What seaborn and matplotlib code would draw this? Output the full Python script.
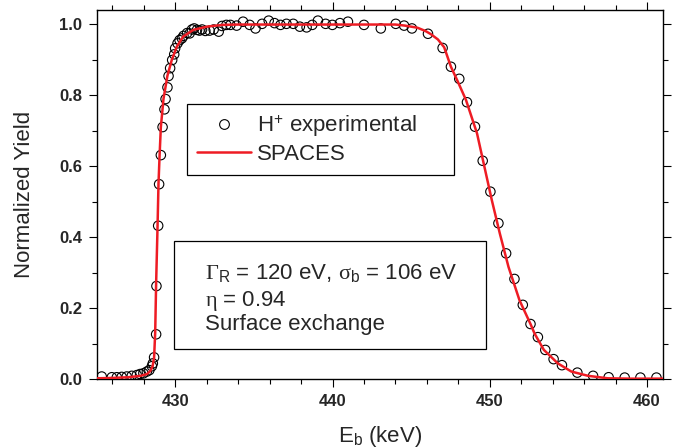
import matplotlib
matplotlib.use("Agg")
import matplotlib.pyplot as plt
from matplotlib.ticker import MultipleLocator, FormatStrFormatter
from matplotlib.lines import Line2D
from matplotlib.patches import Rectangle
import seaborn as sns
import pandas as pd

# Measured H+ yield (beam energy in keV, normalized yield)
exp_energy = [
    425.32, 425.96, 426.28, 426.59, 426.91, 427.23, 427.55, 427.76, 427.97, 428.19,
    428.35, 428.51, 428.57, 428.65, 428.78, 428.80, 428.91, 428.97, 429.08, 429.19,
    429.31, 429.38, 429.50, 429.57, 429.67, 429.80, 429.93, 429.99, 430.14, 430.27,
    430.42, 430.52, 430.75, 430.91, 431.06, 431.20, 431.38, 431.54, 431.70, 431.91,
    432.18, 432.44, 432.76, 432.97, 433.25, 433.50, 433.90, 434.31, 434.73, 435.10,
    435.52, 435.94, 436.31, 436.69, 437.07, 437.50, 437.92, 438.35, 438.71, 439.07,
    439.56, 439.99, 440.47, 440.98, 442.00, 443.07, 444.02, 444.55, 445.05, 446.07,
    447.00, 447.53, 448.06, 448.55, 449.06, 449.55, 450.04, 450.55, 451.04, 451.57,
    452.10, 452.59, 453.06, 453.53, 454.06, 454.59, 455.57, 456.57, 457.56, 458.58,
    459.58, 460.60,
]
exp_yield = [
    0.007, 0.005, 0.005, 0.006, 0.007, 0.009, 0.011, 0.014, 0.016, 0.021,
    0.025, 0.036, 0.044, 0.061, 0.126, 0.262, 0.432, 0.549, 0.631, 0.710,
    0.760, 0.789, 0.822, 0.854, 0.876, 0.899, 0.915, 0.932, 0.946, 0.955,
    0.960, 0.967, 0.975, 0.974, 0.985, 0.988, 0.984, 0.982, 0.985, 0.981,
    0.982, 0.985, 0.979, 0.995, 0.998, 0.998, 0.996, 1.007, 0.998, 0.988,
    1.001, 1.010, 1.003, 0.998, 1.001, 1.001, 0.993, 0.991, 0.998, 1.010,
    1.001, 0.998, 1.003, 1.007, 0.998, 0.988, 1.001, 0.996, 0.988, 0.973,
    0.933, 0.880, 0.846, 0.780, 0.711, 0.615, 0.528, 0.439, 0.354, 0.282,
    0.209, 0.155, 0.118, 0.082, 0.056, 0.039, 0.018, 0.009, 0.005, 0.004,
    0.004, 0.004,
]

# SPACES simulated yield curve
sim_energy = [
    425.0, 426.0, 427.0, 427.8, 428.2, 428.4, 428.55, 428.65, 428.72, 428.78,
    428.87, 428.93, 429.0, 429.08, 429.25, 429.5, 429.78, 430.1, 430.5, 431.15,
    432.0, 433.0, 434.0, 444.0, 444.6, 445.4, 445.9, 446.25, 446.7, 447.1,
    447.53, 448.0, 448.49, 449.19, 449.66, 450.13, 450.64, 451.19, 451.89, 452.59,
    452.85, 453.44, 454.33, 455.19, 456.25, 457.5, 459.0, 461.0,
]
sim_yield = [
    0.002, 0.003, 0.005, 0.009, 0.014, 0.022, 0.035, 0.06, 0.13, 0.27,
    0.43, 0.55, 0.63, 0.71, 0.79, 0.855, 0.90, 0.937, 0.965, 0.984,
    0.993, 0.998, 0.999, 0.999, 0.996, 0.99, 0.981, 0.972, 0.957, 0.935,
    0.88, 0.835, 0.786, 0.692, 0.598, 0.504, 0.41, 0.316, 0.222, 0.155,
    0.128, 0.082, 0.044, 0.021, 0.009, 0.002, 0.001, 0.001,
]

x_ticks = [430, 440, 450, 460]
y_ticks = [0.0, 0.2, 0.4, 0.6, 0.8, 1.0]

legend_labels = ["H$^{\\mathsf{+}}$ experimental", "SPACES"]
info_lines = [
    "$\\mathrm{\\Gamma}_{\\mathsf{R}}$ = 120 eV, $\\mathrm{\\sigma}_{\\mathsf{b}}$ = 106 eV",
    "$\\mathrm{\\eta}$ = 0.94",
    "Surface exchange",
]

sns.set_style("ticks")
plt.rcParams["font.family"] = ["Liberation Sans", "DejaVu Sans"]
plt.rcParams["mathtext.fontset"] = "custom"
plt.rcParams["mathtext.rm"] = "Liberation Serif"
plt.rcParams["mathtext.it"] = "Liberation Serif:italic"
plt.rcParams["mathtext.sf"] = "Liberation Sans"
plt.rcParams["axes.linewidth"] = 1.0

red = "#ee1c24"

exp_df = pd.DataFrame({"energy": exp_energy, "yield": exp_yield})
sim_df = pd.DataFrame({"energy": sim_energy, "yield": sim_yield})

fig = plt.figure(figsize=(6.8, 4.48), dpi=100)
ax = fig.add_axes([0.1422, 0.154, 0.8324, 0.8237])

sns.scatterplot(data=exp_df, x="energy", y="yield", ax=ax, marker="o",
                s=46, facecolor="none", edgecolor="black", linewidth=0.8,
                zorder=2, legend=False)
sns.lineplot(data=sim_df, x="energy", y="yield", ax=ax, color=red,
             linewidth=1.8, zorder=3, legend=False, estimator=None)

ax.set_xlim(425, 461)
ax.set_ylim(0, 1.04)
ax.set_xticks(x_ticks)
ax.set_yticks(y_ticks)
ax.xaxis.set_minor_locator(MultipleLocator(2))
ax.yaxis.set_minor_locator(MultipleLocator(0.1))
ax.yaxis.set_major_formatter(FormatStrFormatter("%.1f"))
ax.tick_params(which="both", direction="out", top=True, right=True,
               width=0.8, color="black")
ax.tick_params(which="major", length=6, pad=4.5)
ax.tick_params(which="minor", length=3.5)
for lab in ax.get_xticklabels() + ax.get_yticklabels():
    lab.set_fontweight("bold")
    lab.set_fontsize(12)
for sp in ax.spines.values():
    sp.set_color("black")

ax.set_xlabel("E$_{\\mathsf{b}}$ (keV)", fontsize=16)
ax.xaxis.set_label_coords(0.5, -0.170)
ax.xaxis.label.set_va("baseline")
ax.set_ylabel("Normalized Yield", fontsize=16)
ax.yaxis.set_label_coords(-0.128, 0.5)
ax.yaxis.label.set_va("center")

handles = [
    Line2D([], [], linestyle="none", marker="o", markersize=7.0,
           markerfacecolor="none", markeredgecolor="black", markeredgewidth=0.8),
    Line2D([], [], color=red, linewidth=1.8),
]
leg = ax.legend(handles, legend_labels, loc="upper left",
                bbox_to_anchor=(0.160, 0.555, 0.472, 0.190), mode="expand",
                borderaxespad=0, borderpad=0.45, handlelength=2.4,
                handletextpad=0.3, labelspacing=0.22, fontsize=16,
                fancybox=False, framealpha=1, edgecolor="black")
leg.get_frame().set_linewidth(0.9)
leg.set_zorder(5)

ax.add_patch(Rectangle((0.137, 0.081), 0.550, 0.293, transform=ax.transAxes,
                       fill=True, facecolor="white", edgecolor="black",
                       linewidth=0.9, zorder=5))
for txt, yb in zip(info_lines, [0.270, 0.197, 0.132]):
    ax.text(0.191, yb, txt, transform=ax.transAxes, fontsize=16,
            va="baseline", ha="left", zorder=6)

fig.savefig("out.png", dpi=100)
